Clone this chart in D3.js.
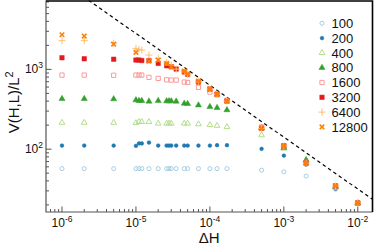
<!DOCTYPE html>
<html>
<head>
<meta charset="utf-8">
<script src="https://cdn.jsdelivr.net/npm/d3@7"></script>
<style>
  body { margin: 0; background: #fff; }
  svg { display: block; font-family: "Liberation Sans", Arial, sans-serif; }
</style>
</head>
<body>
<div id="chart"></div>
<script>
const dH = [1e-6, 2e-6, 5e-6, 1e-5, 1.1e-5, 1.2e-5, 1.5e-5, 2e-5, 2.6e-5, 2.8e-5, 3e-5, 3.5e-5,
  4.5e-5, 5e-5, 7e-5, 1e-4, 1.25e-4, 1.7e-4, 5e-4, 1e-3, 2e-3, 5e-3, 1e-2];

const sizes = ['100', '200', '400', '800', '1600', '3200', '6400', '12800'];

const v100 = [57, 57, 57, 57, 57, 57, 57, 57, 57, 57, 57, 57, 57, 57, 57, 57, 57, 57, 54.5, 52, 46, 31.5, 21];
const v200 = [111, 111, 111, 110, 118, 118, 121, 111, 111, 111, 111, 111, 111, 111, 111, 111, 112, 112, 101, 83, 64, 32, 21];
const v400 = [215, 215, 215, 213, 220, 220, 220, 210, 210, 210, 210, null, 210, 210, 206, 201, 197, 190, 150, 102, 73, 33, 21];
const v800 = [428, 428, 425, 412, 405, 405, 397, 405, 400, 400, 400, 397, 374, 370, 356, 339, 330, 310, 185, 104, 73, 34, 21];
const v1600 = [848, 848, 843, 848, 848, 848, 794, 771, 740, null, 734, 734, 693, 685, 594, 519, 480, 410, 190, 110, 67, 34, 21];
const v3200 = [1399, 1358, 1340, 1309, 1309, 1290, 1290, 1189, 1109, null, 1078, 1009, 925, 865, 693, 566, 490, 400, 182, 110, 67, 34.6, 21.2];
const v6400 = [2286, 2286, 2130, 1833, 1780, 1745, 1511, 1380, 1230, null, 1130, 1009, 952, 870, 713, 566, 490, 400, 182, 110, 67, 34.6, 21.2];
const v12800 = [2716, 2618, 2076, 1633, null, null, 1271, 1309, 1189, null, 1078, null, 952, 870, 713, 570, 485, 400, 182, 110, 67, 34.6, 21.2];

const seriesValues = [v100, v200, v400, v800, v1600, v3200, v6400, v12800];
const colors = ['#a6cee3', '#1f78b4', '#b2df8a', '#33a02c', '#fb9a99', '#e31a1c', '#fdbf6f', '#ff7f00'];
const markers = ['circleOpen', 'circle', 'triangleOpen', 'triangle', 'squareOpen', 'square', 'plus', 'times'];

const xTicks = [1e-6, 1e-5, 1e-4, 1e-3, 1e-2];
const yTicks = [1e2, 1e3];

// dashed guide: V ~ 10^0.2 * dH^-0.65
const guideExp = -0.65;
const guideCoef = Math.pow(10, 0.2);

const width = 374;
const height = 249;
const margin = { left: 46, right: 372.5, top: 0.5, bottom: 212 };

const svg = d3.select('#chart')
  .append('svg')
  .attr('width', width)
  .attr('height', height);

const x = d3.scaleLog()
  .domain([6.08e-7, 1.58e-2])
  .range([margin.left, margin.right]);

const y = d3.scaleLog()
  .domain([16.3, 7300])
  .range([margin.bottom, margin.top]);

function markerPath(type) {
  if (type === 'circleOpen') return d3.symbol(d3.symbolCircle, 13)();
  if (type === 'circle') return d3.symbol(d3.symbolCircle, 11)();
  if (type === 'triangleOpen') return d3.symbol(d3.symbolTriangle, 14)();
  if (type === 'triangle') return d3.symbol(d3.symbolTriangle, 16)();
  if (type === 'squareOpen') return d3.symbol(d3.symbolSquare, 18)();
  if (type === 'square') return d3.symbol(d3.symbolSquare, 20)();
  if (type === 'plus') return 'M-3.5,0H3.5M0,-3.5V3.5';
  return 'M-2.3,-2.3L2.3,2.3M-2.3,2.3L2.3,-2.3';
}

function styleMarker(sel, type, color) {
  const open = type.endsWith('Open') || type === 'plus' || type === 'times';
  sel.attr('d', markerPath(type))
    .attr('fill', open ? 'none' : color)
    .attr('stroke', color)
    .attr('stroke-width', type === 'times' ? 1.6 : (open ? 1 : 0.5));
}

svg.append('clipPath').attr('id', 'plot-clip')
  .append('rect')
  .attr('x', margin.left).attr('y', margin.top)
  .attr('width', margin.right - margin.left).attr('height', margin.bottom - margin.top);

// guide line
const guideData = x.domain().map(d => ({ h: d, v: guideCoef * Math.pow(d, guideExp) }));
svg.append('path')
  .datum(guideData)
  .attr('clip-path', 'url(#plot-clip)')
  .attr('fill', 'none')
  .attr('stroke', '#000')
  .attr('stroke-width', 1.2)
  .attr('stroke-dasharray', '3.5,3')
  .attr('d', d3.line().x(d => x(d.h)).y(d => y(d.v)));

// series
seriesValues.forEach((vals, i) => {
  const pts = dH.map((h, j) => ({ h, v: vals[j] })).filter(d => d.v != null);
  svg.append('g')
    .selectAll('path')
    .data(pts)
    .enter()
    .append('path')
    .attr('transform', d => `translate(${x(d.h)},${y(d.v)})`)
    .call(styleMarker, markers[i], colors[i]);
});

// minor ticks
const xMinor = [];
for (let e = -7; e <= -2; e++) {
  for (let k = 2; k <= 9; k++) {
    const t = k * Math.pow(10, e);
    if (t >= x.domain()[0] && t <= x.domain()[1]) xMinor.push(t);
  }
}
const yMinor = [];
for (let e = 1; e <= 3; e++) {
  for (let k = 2; k <= 9; k++) {
    const t = k * Math.pow(10, e);
    if (t >= y.domain()[0] && t <= y.domain()[1]) yMinor.push(t);
  }
}

const axisColor = '#555';

svg.append('g').selectAll('line')
  .data(xMinor)
  .enter().append('line')
  .attr('x1', d => x(d)).attr('x2', d => x(d))
  .attr('y1', margin.bottom).attr('y2', margin.bottom - 3)
  .attr('stroke', axisColor);

svg.append('g').selectAll('line')
  .data(xTicks)
  .enter().append('line')
  .attr('x1', d => x(d)).attr('x2', d => x(d))
  .attr('y1', margin.bottom).attr('y2', margin.bottom - 5.5)
  .attr('stroke', axisColor);

svg.append('g').selectAll('line')
  .data(yMinor)
  .enter().append('line')
  .attr('y1', d => y(d)).attr('y2', d => y(d))
  .attr('x1', margin.left).attr('x2', margin.left + 3)
  .attr('stroke', axisColor);

svg.append('g').selectAll('line')
  .data(yTicks)
  .enter().append('line')
  .attr('y1', d => y(d)).attr('y2', d => y(d))
  .attr('x1', margin.left).attr('x2', margin.left + 5.5)
  .attr('stroke', axisColor);

// frame
svg.append('path')
  .attr('d', `M${margin.left},${margin.top}V${margin.bottom}H${margin.right}`)
  .attr('fill', 'none')
  .attr('stroke', axisColor)
  .attr('stroke-width', 1.2);
svg.append('path')
  .attr('d', `M${margin.left},${margin.top + 0.5}H${margin.right}V${margin.bottom}`)
  .attr('fill', 'none')
  .attr('stroke', '#000')
  .attr('stroke-width', 1.6);

// tick labels
const xLab = svg.append('g').selectAll('text')
  .data(xTicks)
  .enter().append('text')
  .attr('x', d => x(d))
  .attr('y', 227)
  .attr('text-anchor', 'middle')
  .attr('font-size', '12px')
  .attr('fill', '#111');
xLab.append('tspan').text('10');
xLab.append('tspan')
  .attr('font-size', '8.5px')
  .attr('dy', -5)
  .text(d => '-' + Math.round(-Math.log10(d)));

const yLab = svg.append('g').selectAll('text')
  .data(yTicks)
  .enter().append('text')
  .attr('x', 43)
  .attr('y', d => y(d) + 4)
  .attr('text-anchor', 'end')
  .attr('font-size', '12px')
  .attr('fill', '#111');
yLab.append('tspan').text('10');
yLab.append('tspan')
  .attr('font-size', '8.5px')
  .attr('dy', -5)
  .text(d => Math.round(Math.log10(d)));

// axis titles
svg.append('text')
  .attr('x', (margin.left + margin.right) / 2)
  .attr('y', 243)
  .attr('text-anchor', 'middle')
  .attr('font-size', '15px')
  .attr('fill', '#111')
  .text('ΔH');

const yTitle = svg.append('text')
  .attr('transform', `translate(19,${(margin.top + margin.bottom) / 2 - 4}) rotate(-90)`)
  .attr('text-anchor', 'middle')
  .attr('font-size', '15px')
  .attr('fill', '#111');
yTitle.append('tspan').text('V(H,L)/L');
yTitle.append('tspan').attr('font-size', '11px').attr('dy', -6).text('2');

// legend
const legend = svg.append('g');
sizes.forEach((s, i) => {
  const row = legend.append('g')
    .attr('transform', `translate(322,${23.3 + i * 14.8})`);
  row.append('path').call(styleMarker, markers[i], colors[i]);
  row.append('text')
    .attr('x', 9.5)
    .attr('y', 4.7)
    .attr('font-size', '13px')
    .attr('fill', '#111')
    .text(s);
});
</script>
</body>
</html>
